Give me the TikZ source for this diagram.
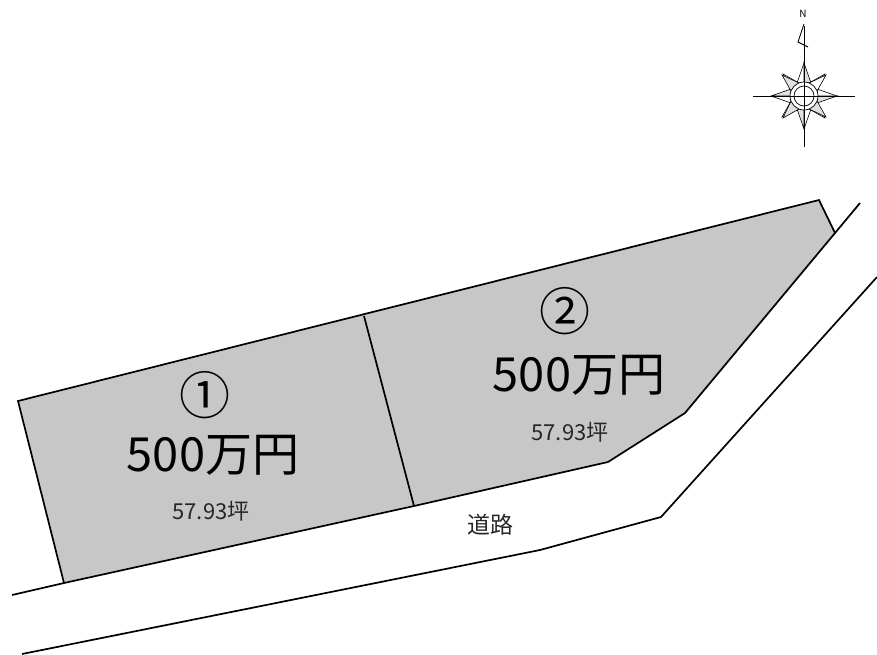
\documentclass[tikz,border=0pt]{standalone}
\usepackage{fontspec}
\setmainfont{Noto Sans CJK JP}
\begin{document}
\begin{tikzpicture}[x=1pt,y=-1pt]
\tikzset{lot/.style = {draw,line width=1.7pt,fill=black!22,line join=miter}}
\tikzset{road/.style = {draw,line width=1.7pt}}
\tikzset{price/.style = {font=\fontsize{47}{47}\selectfont,inner sep=0pt}}
\tikzset{number/.style = {font=\fontsize{51}{51}\selectfont,inner sep=0pt}}
\tikzset{area/.style = {font=\fontsize{22}{22}\selectfont,inner sep=0pt,text=black!85}}
\tikzset{star/.style = {draw,line width=0.6pt,fill=black!12}}
\useasboundingbox (0,0) rectangle (877,654);
% lots
\draw[lot] (18,401) -- (819,200) -- (835,233) -- (685,413) -- (608,462) -- (414,506) -- (64,583) -- cycle;
\draw[road] (364,316) -- (414,506);
% road
\draw[road] (12,595) -- (64,583);
\draw[road] (835,233) -- (860,203);
\draw[road] (22,654) -- (540,550) -- (661,517) -- (877,277);
% labels
\node[number] (n1) at (205,395) {①};
\node[price] (p1) at (213,455) {500万円};
\node[area] (a1) at (211,511) {57.93坪};
\node[number] (n2) at (565,311) {②};
\node[price] (p2) at (579,375) {500万円};
\node[area] (a2) at (570,432) {57.93坪};
\node[font=\fontsize{23}{23}\selectfont,inner sep=0pt,text=black!85] (r) at (490,525) {道路};
% compass
\foreach \a in {0,90,180,270} {
  \begin{scope}[shift={(804,96)},rotate=\a]
  \draw[star] (0,-33) -- (7,-13) -- (0,-13) -- cycle;
  \draw[line width=0.6pt] (0,-33) -- (-7,-13) -- (0,-13);
  \draw[star] (21,-22) -- (13,-5) -- (5,-13) -- cycle;
  \draw[star,fill=white] (-21,-22) -- (-13,-5) -- (-5,-13) -- cycle;
  \end{scope}
}
\draw[draw=none,fill=white] (804,96) circle (14);
\draw[line width=0.7pt] (804,96) circle (14);
\draw[line width=0.7pt] (804,96) circle (10);
\draw[line width=0.8pt] (753,96) -- (855,96);
\draw[line width=0.8pt] (804,26) -- (804,147);
\draw[line width=0.9pt] (804,24) -- (798,42) -- (808,47);
\node[font=\fontsize{10}{10}\selectfont,inner sep=0pt] (north) at (803,14) {N};
\end{tikzpicture}
\end{document}
